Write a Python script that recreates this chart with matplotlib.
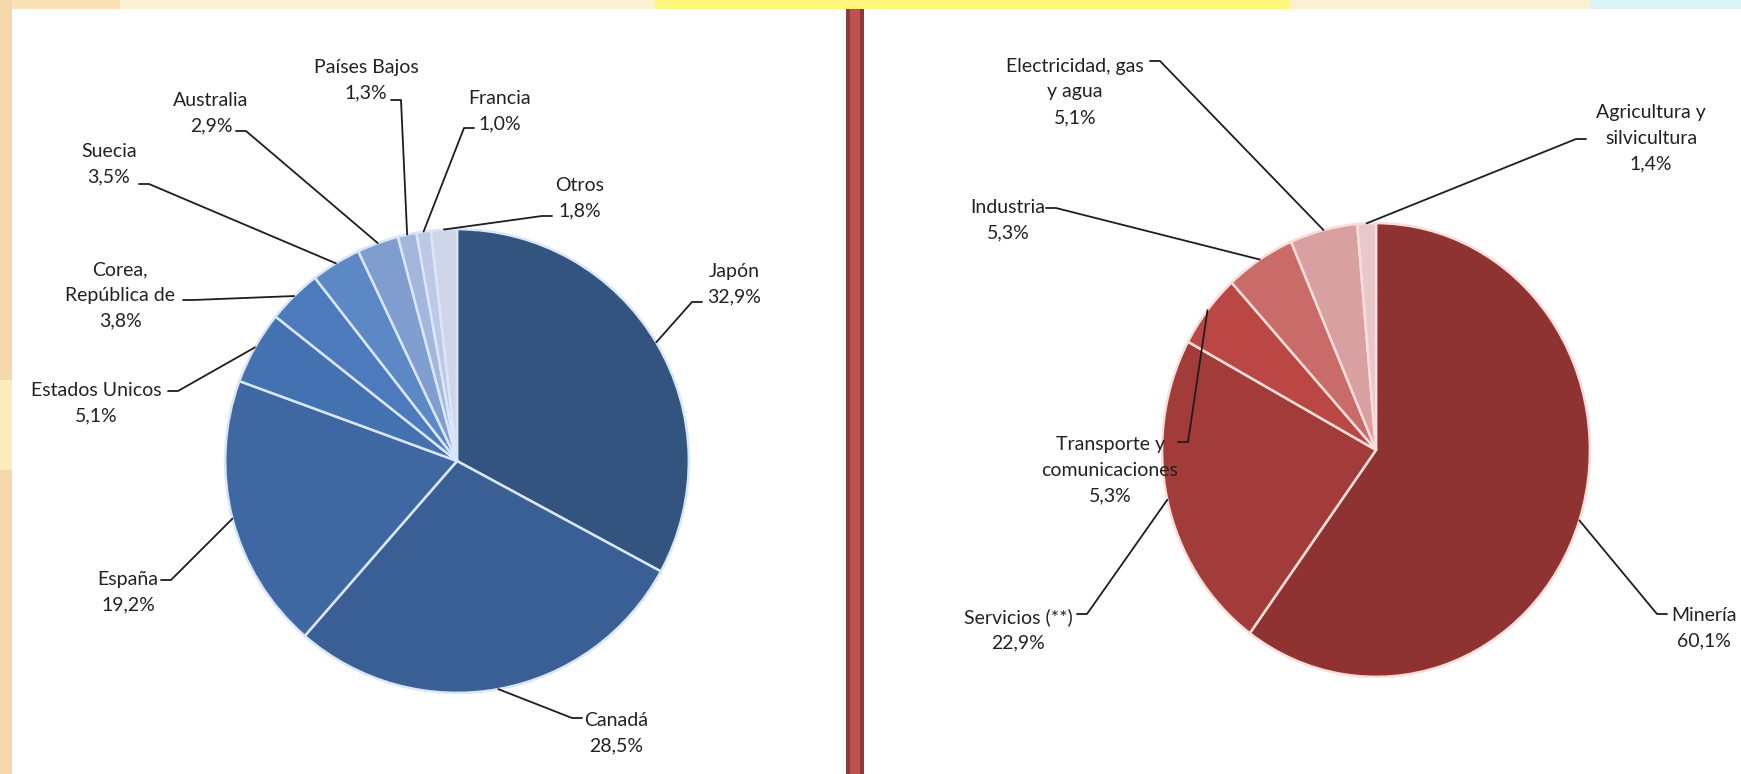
import numpy as np
import matplotlib
matplotlib.use('Agg')
import matplotlib.pyplot as plt
from matplotlib.patches import Rectangle

W, H = 1741, 774

# Left pie: share by country
countries = ['Japón', 'Canadá', 'España', 'Estados Unicos', 'Corea,\nRepública de',
             'Suecia', 'Australia', 'Países Bajos', 'Francia', 'Otros']
country_share = [32.9, 28.5, 19.2, 5.1, 3.8, 3.5, 2.9, 1.3, 1.0, 1.8]
country_colors = ['#33547f', '#3a5f95', '#3f68a3', '#4471b0', '#4c7abd',
                  '#5d88c6', '#7f9dcf', '#a4b6dc', '#bcc8e5', '#cfd6ea']

# Right pie: share by sector
sectors = ['Minería', 'Servicios (**)', 'Transporte y\ncomunicaciones', 'Industria',
           'Electricidad, gas\ny agua', 'Agricultura y\nsilvicultura']
sector_share = [60.1, 22.9, 5.3, 5.3, 5.1, 1.4]
sector_colors = ['#8e3232', '#a23c3a', '#bb4744', '#c96b69', '#d9a0a2', '#e8c8ca']

# layout (pixels): text block centre and leader start point for each label
country_text_xy = [(734, 284), (616, 733), (128, 592), (96, 403), (120, 295),
                   (109, 164), (211, 113), (366, 80), (500, 111), (580, 198)]
country_lead_xy = [(702, 302), (582, 718), (161, 580), (168, 391), (183, 300),
                   (139, 184), (236, 131), (391, 100), (474, 128), (552, 216)]
sector_text_xy = [(1704, 628), (1018, 630), (1110, 470), (1008, 220), (1075, 92), (1651, 138)]
sector_lead_xy = [(1667, 614), (1077, 614), (1178, 442), (1046, 208), (1150, 61), (1586, 139)]

plt.rcParams['font.family'] = ['Lato', 'DejaVu Sans']

fig = plt.figure(figsize=(W / 100, H / 100), dpi=100)
fig.patch.set_facecolor('white')

# slide background
bg = fig.add_axes([0, 0, 1, 1], zorder=0)
bg.set_xlim(0, W)
bg.set_ylim(H, 0)
bg.axis('off')
bg.add_patch(Rectangle((0, 0), W, 9, color='#fbf1d2', lw=0))
bg.add_patch(Rectangle((0, 0), 120, 9, color='#f8e2b6', lw=0))
bg.add_patch(Rectangle((655, 0), 635, 9, color='#fff67c', lw=0))
bg.add_patch(Rectangle((1590, 0), 151, 9, color='#d9f3f6', lw=0))
bg.add_patch(Rectangle((0, 0), 12, H, color='#f5d6ad', lw=0))
bg.add_patch(Rectangle((0, 380), 12, 90, color='#f9edc0', lw=0))
bg.add_patch(Rectangle((846, 9), 18, H, color='#8c3a3a', lw=0))
bg.add_patch(Rectangle((850, 9), 10, H, color='#c0504d', lw=0))

ov = fig.add_axes([0, 0, 1, 1], zorder=3)
ov.set_xlim(0, W)
ov.set_ylim(H, 0)
ov.axis('off')
ov.patch.set_alpha(0)


def pct(v):
  return f"{v:.1f}".replace('.', ',') + '%'


def draw_pie(bbox, values, labels, colors, edge, text_xy, lead_xy):
  x0, y0, x1, y1 = bbox
  ax = fig.add_axes([x0 / W, 1 - y1 / H, (x1 - x0) / W, (y1 - y0) / H], zorder=1)
  wedges, _ = ax.pie(values, colors=colors, startangle=90, counterclock=False,
                     wedgeprops=dict(edgecolor=edge, linewidth=1.8))
  ax.set_aspect('auto')
  ax.set_xlim(-1.005, 1.005)
  ax.set_ylim(-1.005, 1.005)
  ax.axis('off')
  to_ov = ov.transData.inverted()
  for w, lab, v, txy, lxy in zip(wedges, labels, values, text_xy, lead_xy):
    mid = np.radians((w.theta1 + w.theta2) / 2)
    ex, ey = to_ov.transform(ax.transData.transform((np.cos(mid), np.sin(mid))))
    d = 10 if ex > lxy[0] else -10
    ov.plot([lxy[0], lxy[0] + d, ex], [lxy[1], lxy[1], ey],
            color='#1e1e1e', lw=1.3, solid_capstyle='round')
    ov.text(txy[0], txy[1], lab + '\n' + pct(v), ha='center', va='center',
            fontsize=14, color='#222222', linespacing=1.6)


draw_pie((224, 228, 690, 694), country_share, countries, country_colors,
         '#d8e6f7', country_text_xy, country_lead_xy)
draw_pie((1161, 222, 1591, 678), sector_share, sectors, sector_colors,
         '#f9ddd8', sector_text_xy, sector_lead_xy)

fig.savefig('out.png', dpi=100)
